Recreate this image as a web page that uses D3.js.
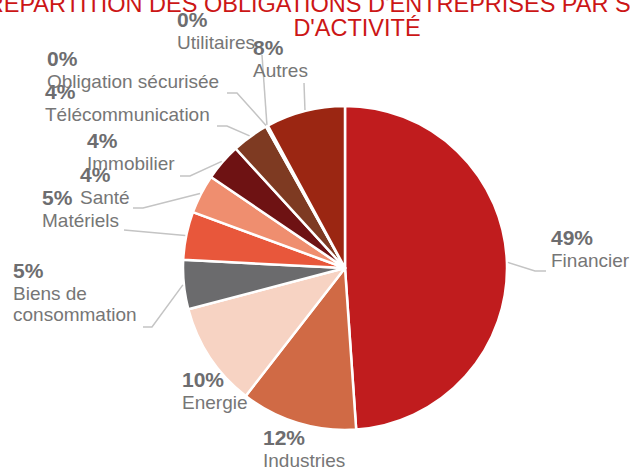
<!DOCTYPE html>
<html>
<head>
<meta charset="utf-8">
<script src="https://cdn.jsdelivr.net/npm/d3@7"></script>
<style>
  body { margin: 0; background: #fff; }
  svg { display: block; font-family: "Liberation Sans", Arial, sans-serif; }
</style>
</head>
<body>
<div id="chart"></div>
<script>
// sectors, clockwise from 12 o'clock
const sectors = ['Financier', 'Industries', 'Energie', 'Biens de consommation', 'Matériels',
  'Santé', 'Immobilier', 'Télécommunication', 'Obligation sécurisée', 'Utilitaires', 'Autres'];
const shares = [48.9, 11.6, 10.4, 4.9, 4.8, 3.9, 3.7, 3.7, 0.1, 0.1, 7.9];
const colors = ['#c01c1e', '#d06a45', '#f7d3c3', '#6b6b6d', '#e8573b',
  '#ef8e6f', '#6e1213', '#7e3a22', '#b5462a', '#c9603f', '#9b2612'];
const titleLines = ["RÉPARTITION DES OBLIGATIONS D'ENTREPRISES PAR SECTEUR", "D'ACTIVITÉ"];

// label placement (text left x, baseline of the % line) and leader elbows
const labelLayout = [
  { x: 551, y: 245, lead: [[535, 271], [546, 271]] },
  { x: 263, y: 445, lead: null },
  { x: 182, y: 387, lead: null },
  { x: 13, y: 278, lines: ['Biens de', 'consommation'], lead: [[152, 327], [143, 327]] },
  { x: 42, y: 205, lead: [[124, 230]] },
  { x: 80, y: 182, lead: [[143, 208], [133, 208]] },
  { x: 87, y: 148, lead: [[190, 176], [180, 176]] },
  { x: 45, y: 99, lead: [[227, 126], [217, 126]] },
  { x: 47, y: 66, lead: [[237, 93], [227, 93]] },
  { x: 177, y: 27, lead: [[262, 55]] },
  { x: 253, y: 55, lead: [[304, 83]] }
];

const width = 630, height = 474;
const cx = 345, cy = 268, radius = 162;

const svg = d3.select('#chart').append('svg')
  .attr('width', width)
  .attr('height', height);

// title (wider than the picture, clipped at both sides like the original)
svg.append('g').selectAll('text')
  .data(titleLines)
  .enter().append('text')
  .attr('x', 357)
  .attr('y', (d, i) => 12 + i * 24)
  .attr('text-anchor', 'middle')
  .style('font-size', '23.5px')
  .style('fill', '#cc1616')
  .text(d => d);

const data = sectors.map((s, i) => ({ name: s, value: shares[i], color: colors[i], layout: labelLayout[i] }));

const pie = d3.pie().sort(null).value(d => d.value);
const arcs = pie(data);
const arc = d3.arc().innerRadius(0).outerRadius(radius);

const g = svg.append('g').attr('transform', 'translate(' + cx + ',' + cy + ')');

g.selectAll('path')
  .data(arcs)
  .enter().append('path')
  .attr('d', arc)
  .style('fill', d => d.data.color)
  .style('stroke', '#fff')
  .style('stroke-width', 2.5)
  .style('stroke-linejoin', 'round');

// leader lines - start on the rim at the slice's mid angle
const line = d3.line();
svg.append('g').selectAll('path')
  .data(arcs.filter(d => d.data.layout.lead))
  .enter().append('path')
  .attr('d', d => {
    const a = (d.startAngle + d.endAngle) / 2;
    const start = [cx + Math.sin(a) * (radius + 1), cy - Math.cos(a) * (radius + 1)];
    return line([start].concat(d.data.layout.lead));
  })
  .style('fill', 'none')
  .style('stroke', '#c4c4c4')
  .style('stroke-width', 1.5);

// labels
const labels = svg.append('g').selectAll('g')
  .data(arcs)
  .enter().append('g');

labels.append('text')
  .attr('x', d => d.data.layout.x)
  .attr('y', d => d.data.layout.y)
  .style('font-size', '21px')
  .style('font-weight', 'bold')
  .style('fill', '#6d6d6f')
  .text(d => Math.round(d.data.value) + '%');

labels.each(function(d) {
  const lines = d.data.layout.lines || [d.data.name];
  d3.select(this).selectAll('text.name')
    .data(lines)
    .enter().append('text')
    .attr('class', 'name')
    .attr('x', d.data.layout.x)
    .attr('y', (t, i) => d.data.layout.y + 22 + i * 21)
    .style('font-size', '19px')
    .style('fill', '#767676')
    .text(t => t);
});
</script>
</body>
</html>
